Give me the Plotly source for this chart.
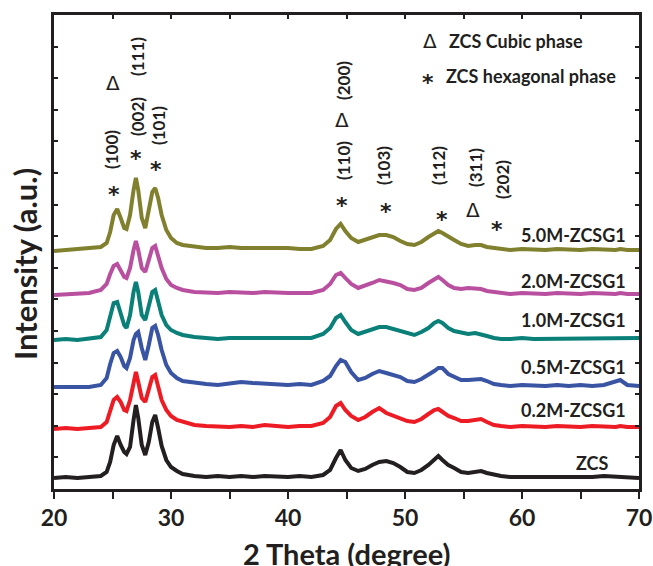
import plotly.graph_objects as go

# 2-theta sampling positions (degree)
two_theta = [20, 21, 22, 23, 24, 24.5, 24.8, 25.1, 25.4, 25.7, 26.0, 26.2, 26.5, 26.8, 27.0, 27.2,
             27.5, 27.8, 28.1, 28.4, 28.65, 28.9, 29.2, 29.6, 30.0, 30.5, 31, 32, 33, 34, 35, 36,
             37, 38, 39, 40, 41, 42, 43, 43.6, 44.1, 44.5, 44.9, 45.4, 46.0, 46.6, 47.2, 47.8,
             48.4, 49.0, 49.6, 50.2, 50.8, 51.4, 52.0, 52.5, 52.85, 53.2, 53.7, 54.2, 54.8, 55.4,
             56.0, 56.5, 57.0, 57.6, 58.2, 59, 60, 61, 62, 63, 64, 65, 66, 67, 68, 68.4, 69, 70]

# intensities (a.u., stacked/offset as in the figure)
zcs = [11, 12, 11, 12, 13, 17, 27, 44, 53, 44, 37, 35, 42, 69, 84, 71,
       44, 34, 47, 67, 74, 61, 43, 29, 22, 18, 15, 13, 12, 13, 12, 13,
       12, 13, 12, 12, 13, 12, 14, 19, 31, 39, 29, 21, 18, 20, 24, 27,
       28, 26, 22, 17, 16, 19, 24, 30, 33, 29, 24, 21, 17, 16,
       17, 18, 16, 14, 13, 12, 12, 11, 12, 12, 11, 12, 12, 13, 12, 12, 12, 11]
m02 = [60, 61, 60, 61, 62, 67, 79, 89, 92, 87, 79, 78, 89, 109, 117, 107,
       91, 87, 99, 112, 114, 101, 89, 79, 73, 69, 67, 64, 63, 62, 62, 63,
       62, 64, 63, 62, 63, 63, 66, 72, 83, 86, 79, 73, 69, 72, 77, 81,
       76, 73, 71, 68, 67, 70, 75, 79, 80, 77, 73, 71, 68, 68,
       69, 70, 67, 64, 63, 62, 63, 62, 62, 63, 62, 62, 63, 62, 62, 63, 62, 62]
m05 = [102, 102, 103, 102, 104, 111, 125, 136, 138, 132, 123, 121, 131, 149, 155, 157,
       141, 129, 144, 161, 163, 154, 139, 124, 116, 111, 108, 106, 105, 104, 105, 107,
       106, 105, 104, 104, 105, 104, 108, 113, 123, 129, 127, 117, 109, 111, 115, 118,
       116, 114, 112, 108, 107, 110, 114, 118, 121, 121, 115, 112, 109, 109,
       110, 110, 108, 105, 104, 103, 104, 103, 103, 104, 103, 104, 103, 104, 107, 109, 104, 103]
m10 = [149, 150, 149, 150, 152, 159, 174, 186, 187, 177, 164, 161, 174, 197, 207, 197,
       174, 169, 184, 197, 199, 189, 174, 164, 159, 156, 154, 152, 151, 150, 151, 151,
       150, 151, 151, 150, 151, 151, 155, 161, 171, 174, 167, 159, 155, 157, 160, 162,
       162, 160, 158, 155, 154, 157, 161, 166, 168, 166, 161, 158, 156, 155,
       156, 155, 153, 151, 150, 150, 151, 150, 150, 151, 150, 150, 151, 150, 151, 150, 150, 151]
m20 = [194, 195, 195, 196, 199, 205, 215, 223, 225, 219, 212, 211, 221, 239, 248, 239,
       221, 217, 229, 241, 243, 234, 221, 210, 204, 201, 199, 197, 196, 196, 197, 196,
       196, 197, 196, 196, 196, 196, 199, 205, 214, 216, 211, 205, 201, 203, 206, 209,
       208, 206, 204, 200, 199, 201, 206, 210, 212, 209, 204, 201, 200, 201,
       201, 200, 198, 197, 196, 195, 196, 195, 195, 196, 195, 195, 196, 195, 195, 196, 195, 195]
m50 = [238, 239, 240, 240, 242, 246, 257, 274, 280, 271, 261, 260, 274, 299, 311, 299,
       271, 261, 279, 297, 301, 291, 274, 259, 251, 246, 244, 242, 241, 241, 242, 241,
       241, 242, 241, 241, 240, 240, 243, 249, 260, 265, 258, 251, 247, 249, 252, 254,
       254, 252, 248, 245, 244, 247, 252, 256, 258, 256, 252, 249, 245, 243,
       244, 244, 242, 241, 240, 239, 240, 239, 239, 240, 239, 239, 240, 239, 239, 240, 239, 239]

series_names = ["ZCS", "0.2M-ZCSG1", "0.5M-ZCSG1", "1.0M-ZCSG1", "2.0M-ZCSG1", "5.0M-ZCSG1"]
series_values = [zcs, m02, m05, m10, m20, m50]
series_colors = ["#231f20", "#ed1c24", "#3a54a4", "#0a8078", "#b9509f", "#80802f"]

# peak indexing labels
hkl_labels = ["(100)", "(111)", "(002)", "(101)", "(200)", "(110)", "(103)", "(112)", "(311)", "(202)"]
phase_symbols = ["Δ", "*"]
legend_texts = ["ZCS Cubic phase", "ZCS hexagonal phase"]

x_ticks = [20, 30, 40, 50, 60, 70]

FONT = "Lato"
W, H = 653, 566
L, R, T, B = 54, 14, 15, 77
YMAX = 474.0

fig = go.Figure()
for name, vals, col in zip(series_names, series_values, series_colors):
    fig.add_trace(go.Scatter(x=two_theta, y=vals, mode="lines", name=name,
                             line=dict(color=col, width=4), showlegend=False))

def px2x(px):
    return 20 + (px - L) * 50.0 / (W - L - R)

def py2y(py):
    return (H - B) - py

ann = []
def text_at(txt, px, py, size=17, angle=0, bold=True, font=FONT, xanchor="center"):
    ann.append(dict(x=px2x(px), y=py2y(py), xref="x", yref="y", text=(f"<b>{txt}</b>" if bold else txt),
                    showarrow=False, textangle=angle, xanchor=xanchor, yanchor="middle",
                    font=dict(family=font, size=size, color="#231f20")))

# rotated (hkl) labels
rot_pos = [(111, 150), (137, 57), (137, 117), (158, 126), (343, 81), (343, 161),
           (383, 166), (438, 166), (475, 168), (502, 180)]
for lab, (px, py) in zip(hkl_labels, rot_pos):
    text_at(lab, px, py, size=17, angle=-90)

# phase symbols near peaks
star_pos = [(114, 188), (136, 152), (156, 163), (342, 199), (386, 205), (442, 213), (497, 223)]
delta_pos = [(113, 83), (342, 120), (473, 210)]
STAR_DY = 6
for px, py in star_pos:
    text_at(phase_symbols[1], px, py + STAR_DY, size=22, font="DejaVu Sans")
for px, py in delta_pos:
    text_at(phase_symbols[0], px, py, size=20, bold=False, font="DejaVu Sans")

# legend block
text_at(phase_symbols[0], 430, 41, size=20, bold=False, font="DejaVu Sans")
text_at(legend_texts[0], 447, 41, size=18, xanchor="left")
text_at(phase_symbols[1], 428, 76 + STAR_DY, size=22, font="DejaVu Sans")
text_at(legend_texts[1], 444, 76, size=18, xanchor="left")

# series labels
lab_pos = [(592, 463), (628, 410), (628, 367), (628, 320), (628, 281), (628, 235)]
for name, (px, py) in zip(series_names, lab_pos):
    text_at(name, px, py, size=18, xanchor=("center" if name == "ZCS" else "right"))

# axis titles (paper coords are relative to plot area)
def paper(px, py):
    return (px - L) / (W - L - R), ((H - B) - py) / (H - T - B)

tx, ty = paper(346.5, 553)
ann.append(dict(x=tx, y=ty, xref="paper", yref="paper", showarrow=False,
                text="<b>2 Theta (degree)</b>", xanchor="center", yanchor="middle",
                font=dict(family=FONT, size=29, color="#231f20")))
tx, ty = paper(25, 264)
ann.append(dict(x=tx, y=ty, xref="paper", yref="paper", showarrow=False,
                text="<b>Intensity (a.u.)</b>", textangle=-90, xanchor="center", yanchor="middle",
                font=dict(family=FONT, size=31, color="#231f20")))

fig.update_layout(
    width=W, height=H, margin=dict(l=L, r=R, t=T, b=B, autoexpand=False),
    paper_bgcolor="white", plot_bgcolor="white",
    annotations=ann,
    xaxis=dict(range=[20, 70], tickvals=x_ticks, ticks="outside", ticklen=7, tickwidth=2,
               tickcolor="#231f20", showline=True, linewidth=2.5, linecolor="#231f20", mirror=True,
               showgrid=False, zeroline=False,
               tickfont=dict(family=FONT, size=23, color="#231f20", weight="bold"),
               minor=dict(dtick=5, tick0=20, ticks="outside", ticklen=7, tickwidth=2, tickcolor="#231f20")),
    xaxis2=dict(range=[20, 70], overlaying="x", side="top", dtick=5, tick0=20, ticks="inside",
                ticklen=4, tickwidth=1.5, tickcolor="#231f20", showticklabels=False,
                showgrid=False, zeroline=False, showline=False),
    yaxis=dict(range=[0, YMAX], dtick=YMAX / 15, tick0=0, ticks="inside", ticklen=4, tickwidth=1.5,
               tickcolor="#231f20", showticklabels=False, showline=True, linewidth=2.5,
               linecolor="#231f20", mirror="ticks", showgrid=False, zeroline=False),
)
fig.add_trace(go.Scatter(x=[20, 70], y=[None, None], xaxis="x2", yaxis="y", showlegend=False,
                         hoverinfo="skip", mode="lines"))
fig.write_html("out.html", config={"displayModeBar": False},
               post_script="document.body.style.margin='0';document.body.style.overflow='hidden';")
